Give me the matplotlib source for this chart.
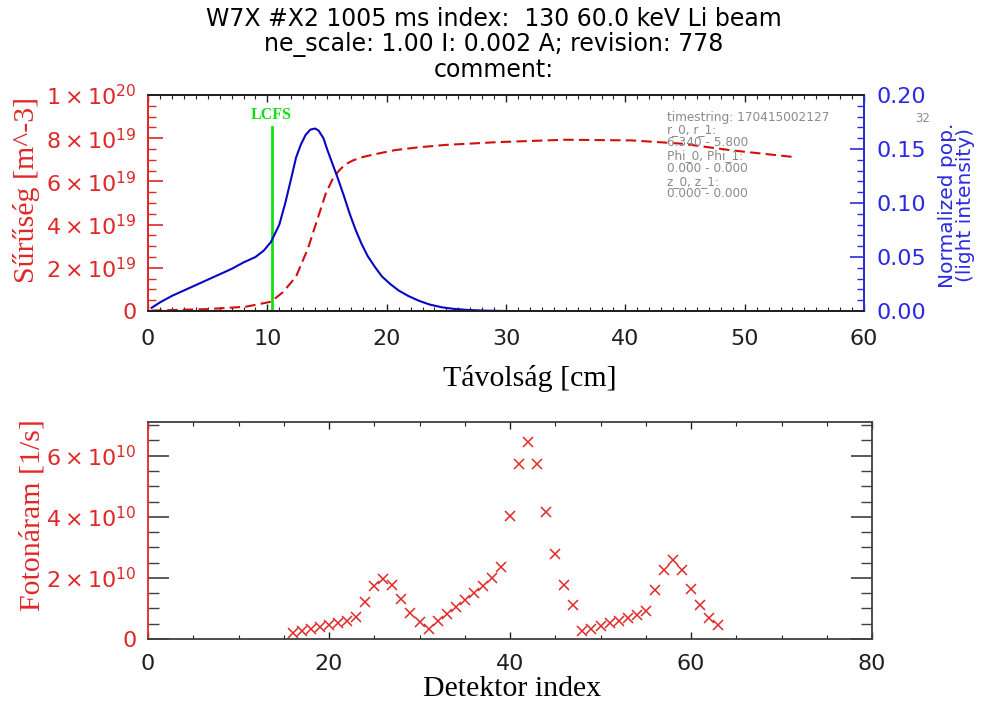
import numpy as np
import matplotlib
matplotlib.use('Agg')
import matplotlib.pyplot as plt
from matplotlib.ticker import MultipleLocator

# top panel: density (red dashed) and normalized light profile (blue)
dens_x = [0.3, 0.9, 3.0, 5.0, 8.2, 10.3, 11.3, 12.4, 13.4, 14.4, 14.9, 15.5, 16.0,
          16.5, 17.2, 18.0, 19.0, 20.7, 22.5, 24.9, 29.3, 34.9, 40.5, 44.7, 48.9,
          54.1]
dens_y = [0.02e19, 0.03e19, 0.06e19, 0.09e19, 0.2e19, 0.43e19, 0.87e19, 1.59e19,
          2.9e19, 4.6e19, 5.45e19, 6.15e19, 6.5e19, 6.78e19, 6.98e19, 7.13e19,
          7.26e19, 7.45e19, 7.57e19, 7.69e19, 7.82e19, 7.93e19, 7.9e19, 7.75e19,
          7.44e19, 7.13e19]
light_x = [0.3, 1.0, 2.0, 3.0, 4.0, 5.0, 6.0, 7.0, 8.0, 9.0, 9.7, 10.3, 11.0, 11.5,
           12.0, 12.4, 12.8, 13.2, 13.6, 14.0, 14.3, 14.7, 15.0, 15.4, 15.9, 16.4,
           16.9, 17.4, 17.9, 18.4, 19.0, 19.6, 20.3, 21.0, 21.8, 22.7, 23.6, 24.6,
           25.6, 26.8, 28.2, 30.0]
light_y = [0.003, 0.008, 0.014, 0.019, 0.024, 0.029, 0.034, 0.039, 0.045, 0.050,
           0.056, 0.064, 0.080, 0.100, 0.123, 0.142, 0.154, 0.163, 0.168, 0.169,
           0.167, 0.160, 0.150, 0.138, 0.123, 0.107, 0.090, 0.075, 0.062, 0.051,
           0.041, 0.032, 0.025, 0.019, 0.014, 0.0095, 0.006, 0.0035, 0.002, 0.001,
           0.0004, 0.0]
lcfs = 10.35

dens_ticks = [0, 2e19, 4e19, 6e19, 8e19, 1e20]
dens_labels = ['0', r'$2\times10^{19}$', r'$4\times10^{19}$', r'$6\times10^{19}$',
               r'$8\times10^{19}$', r'$1\times10^{20}$']
pop_ticks = [0.0, 0.05, 0.10, 0.15, 0.20]
pop_labels = ['0.00', '0.05', '0.10', '0.15', '0.20']

title_lines = ['W7X #X2 1005 ms index:  130 60.0 keV Li beam',
               'ne_scale: 1.00 I: 0.002 A; revision: 778',
               'comment:']
info_lines = ['timestring: 170415002127', 'r_0, r_1:', '6.340 - 5.800',
              'Phi_0, Phi_1:', '0.000 - 0.000', 'z_0, z_1:', '0.000 - 0.000']

# bottom panel: photon flux per detector
det_index = list(range(16, 64))
flux = [0.20, 0.26, 0.32, 0.38, 0.45, 0.52, 0.60, 0.72, 1.21, 1.74, 1.98, 1.77,
        1.30, 0.86, 0.56, 0.34, 0.58, 0.83, 1.05, 1.27, 1.51, 1.74, 2.00, 2.36,
        4.02, 5.73, 6.46, 5.72, 4.16, 2.77, 1.77, 1.11, 0.25, 0.34, 0.43, 0.51,
        0.59, 0.68, 0.79, 0.93, 1.60, 2.27, 2.57, 2.27, 1.65, 1.10, 0.70, 0.45]
flux = [f * 1e10 for f in flux]
flux_ticks = [0, 2e10, 4e10, 6e10]
flux_labels = ['0', r'$2\times10^{10}$', r'$4\times10^{10}$', r'$6\times10^{10}$']

red = '#e02828'
red_line = '#d01010'
blue = '#2a2ae0'
blue_line = '#0808c0'
green = '#10e010'
dark = '#202020'

plt.rcParams['font.family'] = 'DejaVu Sans'
plt.rcParams['mathtext.fontset'] = 'dejavusans'

fig = plt.figure(figsize=(9.85, 7.04), dpi=100)

ax1 = fig.add_axes([0.1503, 0.5582, 0.7269, 0.3068])
ax2 = ax1.twinx()

ax1.plot(dens_x, dens_y, color=red_line, lw=1.5, dashes=(5, 2.5))
ax2.plot(light_x, light_y, color=blue_line, lw=1.5)
ax1.axvline(lcfs, ymin=0, ymax=0.854, color=green, lw=2)
ax1.text(lcfs, 0.87, 'LCFS', transform=ax1.get_xaxis_transform(), ha='center',
         va='bottom', color=green, fontsize=11.5, fontweight='bold',
         family='Liberation Serif')

ax1.set_xlim(0, 60)
ax1.set_ylim(0, 1e20)
ax2.set_ylim(0, 0.20)
ax1.xaxis.set_major_locator(MultipleLocator(10))
ax1.xaxis.set_minor_locator(MultipleLocator(1))
ax1.set_yticks(dens_ticks)
ax1.set_yticklabels(dens_labels)
ax1.yaxis.set_minor_locator(MultipleLocator(5e18))
ax2.set_yticks(pop_ticks)
ax2.set_yticklabels(pop_labels)
ax2.yaxis.set_minor_locator(MultipleLocator(0.01))

ax1.tick_params(axis='x', which='both', direction='in', top=True, bottom=True,
                colors=dark, labelsize=16, pad=13)
ax1.tick_params(axis='x', which='major', length=5, width=1)
ax1.tick_params(axis='x', which='minor', length=3, width=0.8)
ax1.tick_params(axis='y', which='both', direction='in', colors=red, labelsize=16,
                pad=8, right=False)
ax1.tick_params(axis='y', which='major', length=11, width=1.2)
ax1.tick_params(axis='y', which='minor', length=6, width=1)
ax2.tick_params(axis='y', which='both', direction='in', colors=blue, labelsize=16,
                pad=9)
ax2.tick_params(axis='y', which='major', length=10, width=1.2)
ax2.tick_params(axis='y', which='minor', length=5, width=1)

for a in (ax1, ax2):
    a.spines['left'].set_color(red)
    a.spines['right'].set_color(blue)
    a.spines['top'].set_color(dark)
    a.spines['bottom'].set_color(dark)
    for s in a.spines.values():
        s.set_linewidth(1.3)

ax1.set_xlabel('Távolság [cm]', family='Liberation Serif', fontsize=21.5, color='black')
ax1.xaxis.set_label_coords(0.533, -0.25)
ax1.set_ylabel('Sűrűség [m^-3]', family='Liberation Serif', fontsize=21.5, color=red)
ax1.yaxis.set_label_coords(-0.151, 0.56)
ax2.set_ylabel('Normalized pop.\n(light intensity)', fontsize=14.5, color=blue,
               linespacing=0.95)
ax2.yaxis.set_label_coords(1.103, 0.49)

for i, line in enumerate(info_lines):
    ax1.text(0.725, 0.898 - i * 0.0593, line, transform=ax1.transAxes, ha='left',
             va='center', fontsize=8.7, color='#8a8a8a')
fig.text(0.937, 0.832, '32', fontsize=8.5, color='#8a8a8a', ha='center', va='center')

for i, line in enumerate(title_lines):
    fig.text(0.501, 1 - (19 + i * 25.5) / 704, line, ha='center', va='center',
             fontsize=17, color='black')

# bottom panel
ax3 = fig.add_axes([0.1503, 0.0923, 0.735, 0.3082])
ax3.plot(det_index, flux, 'x', color=red, markersize=7, mew=1.1)
ax3.set_xlim(0, 80)
ax3.set_ylim(0, 7.1e10)
ax3.xaxis.set_major_locator(MultipleLocator(20))
ax3.xaxis.set_minor_locator(MultipleLocator(5))
ax3.set_yticks(flux_ticks)
ax3.set_yticklabels(flux_labels)
ax3.yaxis.set_minor_locator(MultipleLocator(5e9))
ax3.tick_params(axis='x', which='both', direction='in', top=True, bottom=True,
                colors=dark, labelsize=16, pad=11)
ax3.tick_params(axis='x', which='major', length=5, width=1)
ax3.tick_params(axis='x', which='minor', length=3, width=0.8)
ax3.tick_params(axis='y', which='both', direction='in', right=True, labelsize=16,
                pad=8)
ax3.tick_params(axis='y', which='major', length=15, width=1.2)
ax3.tick_params(axis='y', which='minor', length=8, width=1)
for t in ax3.get_yticklabels():
    t.set_color(red)
for s in ax3.spines.values():
    s.set_linewidth(1.3)
    s.set_color('#404040')
ax3.spines['left'].set_color(red)
ax3.tick_params(axis='y', which='both', color='#404040')
ax3.set_xlabel('Detektor index', family='Liberation Serif', fontsize=21.5, color='black')
ax3.xaxis.set_label_coords(0.503, -0.17)
ax3.set_ylabel('Fotonáram [1/s]', family='Liberation Serif', fontsize=21.5, color=red)
ax3.yaxis.set_label_coords(-0.142, 0.57)

fig.savefig('out.png', dpi=100)
